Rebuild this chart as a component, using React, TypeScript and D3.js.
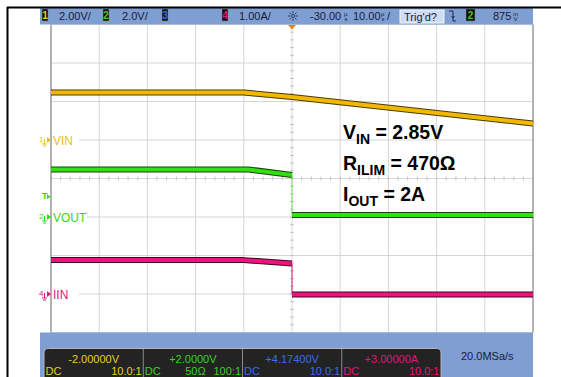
import React from "react";
import * as d3 from "d3";

// Time axis in microseconds, trigger at 0
const timeDomain = [-50, 50];

// CH1 VIN (V), 2 V/div
const vinTime = [-50, -10, 0, 50];
const vinValues = [2.47, 2.47, 2.23, 0.86];

// CH2 VOUT (V), 2 V/div — before and after the trip
const voutTimeBefore = [-50, -9, 0];
const voutBefore = [2.47, 2.47, 2.18];
const voutTimeAfter = [0, 50];
const voutAfter = [0.1, 0.1];

// CH4 IIN (A), 1 A/div
const iinTimeBefore = [-50, -10, 0];
const iinBefore = [0.88, 0.88, 0.79];
const iinTimeAfter = [0, 50];
const iinAfter = [-0.01, -0.01];

const headerItems = ["2.00V/", "2.0V/", "1.00A/"];
const bottomOffsets = ["-2.00000V", "+2.0000V", "+4.17400V", "+3.00000A"];
const bottomLeft = ["DC", "DC", "DC", "DC"];
const bottomMid = ["", "50Ω", "", ""];
const bottomRight = ["10.0:1", "100:1", "10.0:1", "10.0:1"];
const channelColors = ["#e8d020", "#3cd020", "#3a6cf0", "#e0157a"];

const W = 561;
const H = 377;
const gx0 = 51;
const gx1 = 533;
const gy0 = 24.5;
const gy1 = 332.5;
const divH = (gy1 - gy0) / 8;

const x = d3.scaleLinear().domain(timeDomain).range([gx0, gx1]);
const yDiv = d3.scaleLinear().domain([-4, 4]).range([gy1, gy0]);

function chanY(groundDiv: number, perDiv: number) {
  return (v: number) => yDiv(groundDiv + v / perDiv);
}
const y1 = chanY(1, 2);
const y2 = chanY(-1, 2);
const y4 = chanY(-3, 1);

function pathOf(ts: number[], vs: number[], yf: (v: number) => number) {
  const line = d3.line<number>().x((_, i) => x(ts[i])).y((v) => yf(v));
  return line(vs) || "";
}

function Trace({ d, color, edge, w }: { d: string; color: string; edge: string; w: number }) {
  return (
    <g fill="none" strokeLinejoin="round">
      <path d={d} stroke={edge} strokeWidth={w + 2} />
      <path d={d} stroke={color} strokeWidth={w} />
    </g>
  );
}

function GroundMarker({ y, num, color, label }: { y: number; num: string; color: string; label: string }) {
  return (
    <g>
      <rect x={52} y={y - 7} width={label.length * 8 + 3} height={14} fill="#fff" />
      <text x={39} y={y + 2} fontSize={8} fill={color} fontFamily="Liberation Sans, Arial, sans-serif">{num}</text>
      <line x1={44.5} y1={y - 1} x2={44.5} y2={y + 4} stroke={color} strokeWidth={1} />
      <line x1={42} y1={y + 4} x2={47} y2={y + 4} stroke={color} strokeWidth={1} />
      <line x1={43} y1={y + 6} x2={46} y2={y + 6} stroke={color} strokeWidth={1} />
      <path d={`M47,${y - 3} L51,${y} L47,${y + 3} Z`} fill={color} />
      <text x={53} y={y + 4.5} fontSize={12} fill={color} fontFamily="Liberation Sans, Arial, sans-serif">{label}</text>
    </g>
  );
}

function UnitStack({ xx, yy, top, bottom }: { xx: number; yy: number; top: string; bottom: string }) {
  return (
    <g fontSize={6} fill="#1a1a3a" fontFamily="Liberation Sans, Arial, sans-serif">
      <text x={xx} y={yy - 4}>{top}</text>
      <text x={xx + 0.5} y={yy + 0.5}>{bottom}</text>
    </g>
  );
}

function ChanBox({ xx, num, color }: { xx: number; num: string; color: string }) {
  return (
    <g>
      <rect x={xx} y={9} width={6} height={12} fill="#111" stroke="#888" strokeWidth={0.5} />
      <text x={xx + 3} y={19} fontSize={10} fontWeight="bold" textAnchor="middle" fill={color} fontFamily="Liberation Sans, Arial, sans-serif">{num}</text>
    </g>
  );
}

export default function App() {
  const vLines = d3.range(0, 11).map((i) => gx0 + (i * (gx1 - gx0)) / 10);
  const hLines = d3.range(0, 9).map((i) => gy0 + i * divH);
  const cx = (gx0 + gx1) / 2;
  const cy = (gy0 + gy1) / 2;
  const hTicks = d3.range(0, 51).map((i) => gx0 + (i * (gx1 - gx0)) / 50);
  const vTicks = d3.range(0, 41).map((i) => gy0 + (i * (gy1 - gy0)) / 40);
  const font = "Liberation Sans, Arial, sans-serif";
  const cellW = 99.25;
  const trigY = y2(0.875);

  return (
    <svg width={W} height={H} style={{ position: "absolute", left: 0, top: 0 }}>
      <rect x={0} y={0} width={W} height={H} fill="#fff" />

      {/* grid */}
      <g stroke="#d6d6d6" strokeWidth={1}>
        {vLines.map((vx, i) => (
          <line key={"v" + i} x1={vx} y1={gy0} x2={vx} y2={gy1} />
        ))}
        {hLines.map((hy, i) => (
          <line key={"h" + i} x1={gx0} y1={hy} x2={gx1} y2={hy} />
        ))}
      </g>
      <g stroke="#c4c4c4" strokeWidth={1}>
        {hTicks.map((tx, i) => (
          <line key={"ht" + i} x1={tx} y1={cy - 2} x2={tx} y2={cy + 2} />
        ))}
        {vTicks.map((ty, i) => (
          <line key={"vt" + i} x1={cx - 2} y1={ty} x2={cx + 2} y2={ty} />
        ))}
      </g>
      <line x1={gx0} y1={gy0} x2={gx0} y2={gy1} stroke="#8a8a8a" strokeWidth={1.2} />
      <line x1={gx1} y1={gy0} x2={gx1} y2={gy1} stroke="#a0a0a0" strokeWidth={1.5} />

      {/* channel labels */}
      <GroundMarker y={y1(0)} num="1" color="#e8c020" label="VIN" />
      <GroundMarker y={y2(0)} num="2" color="#3cd020" label="VOUT" />
      <GroundMarker y={y4(0)} num="4" color="#e0157a" label="IIN" />
      <g>
        <text x={42} y={trigY - 1} fontSize={9} fontWeight="bold" fill="#3cd020" fontFamily={font}>T</text>
        <path d={`M47,${trigY - 6} L50.5,${trigY - 3.5} L47,${trigY - 1} Z`} fill="#3cd020" />
      </g>

      {/* vertical transitions */}
      <line x1={x(0)} y1={y2(voutBefore[2])} x2={x(0)} y2={y2(voutAfter[0])} stroke="#7ee060" strokeWidth={1} />
      <line x1={x(0)} y1={y4(iinBefore[2])} x2={x(0)} y2={y4(iinAfter[0])} stroke="#e0157a" strokeWidth={1} />

      {/* traces */}
      <Trace d={pathOf(vinTime, vinValues, y1)} color="#f2b800" edge="#4a3c00" w={4} />
      <Trace d={pathOf(voutTimeBefore, voutBefore, y2)} color="#30e010" edge="#1c4010" w={4} />
      <Trace d={pathOf(voutTimeAfter, voutAfter, y2)} color="#30e010" edge="#1c4010" w={4} />
      <Trace d={pathOf(iinTimeBefore, iinBefore, y4)} color="#f0127e" edge="#3a0a20" w={4} />
      <Trace d={pathOf(iinTimeAfter, iinAfter, y4)} color="#f0127e" edge="#3a0a20" w={4} />

      {/* annotation */}
      <g fontFamily={font} fontWeight="bold" fill="#000">
        <text x={343} y={139} fontSize={19.5}>
          V<tspan fontSize={14} dy={5}>IN</tspan>
          <tspan dy={-5}> = 2.85V</tspan>
        </text>
        <text x={343} y={170} fontSize={19.5}>
          R<tspan fontSize={14} dy={5}>ILIM</tspan>
          <tspan dy={-5}> = 470Ω</tspan>
        </text>
        <text x={343} y={201} fontSize={19.5}>
          I<tspan fontSize={14} dy={5}>OUT</tspan>
          <tspan dy={-5}> = 2A</tspan>
        </text>
      </g>

      {/* header bar */}
      <rect x={40} y={8} width={gx1 - 40} height={16.5} fill="#7f9fd2" />
      <g fontFamily={font} fontSize={11} fill="#1a1a3a">
        <ChanBox xx={42} num="1" color="#e8d020" />
        <text x={59} y={20}>{headerItems[0]}</text>
        <ChanBox xx={103} num="2" color="#3cd020" />
        <text x={122} y={20}>{headerItems[1]}</text>
        <ChanBox xx={162} num="3" color="#3a6cf0" />
        <ChanBox xx={222} num="4" color="#e0157a" />
        <text x={239} y={20}>{headerItems[2]}</text>
        {/* brightness icon */}
        <g stroke="#2a2a4a" strokeWidth={0.8}>
          {d3.range(0, 8).map((i) => {
            const a = (i * Math.PI) / 4;
            return (
              <line key={i} x1={293 + Math.cos(a) * 2.5} y1={16 + Math.sin(a) * 2.5} x2={293 + Math.cos(a) * 5} y2={16 + Math.sin(a) * 5} />
            );
          })}
          <circle cx={293} cy={16} r={1.5} fill="none" />
        </g>
        <text x={310} y={20}>-30.00</text>
        <UnitStack xx={344} yy={20} top="µ" bottom="s" />
        <text x={353} y={20}>10.00</text>
        <UnitStack xx={381} yy={20} top="µ" bottom="s" />
        <text x={387} y={20}>/</text>
        <rect x={400} y={10} width={44} height={13} fill="#cfdcf2" stroke="#f4f6fa" strokeWidth={1} />
        <text x={404} y={20.5}>Trig'd?</text>
        <path d="M449,11 L453,11 L453,21 L456,21 M451.5,16 L453,18 L454.5,16" stroke="#1a1a3a" strokeWidth={0.9} fill="none" />
        <rect x={466} y={9} width={9} height={12} fill="#111" stroke="#888" strokeWidth={0.5} />
        <text x={470.5} y={19} fontSize={10} fontWeight="bold" textAnchor="middle" fill="#3cd020">2</text>
        <text x={493} y={20}>875</text>
        <UnitStack xx={513} yy={20} top="m" bottom="V" />
      </g>
      <path d={`M${x(0) - 4},${gy0 + 0.5} L${x(0) + 4},${gy0 + 0.5} L${x(0)},${gy0 + 5} Z`} fill="#f08010" />

      {/* bottom bar */}
      <rect x={40} y={gy1} width={gx1 - 40} height={H - gy1} fill="#7f9fd2" />
      <path
        d={`M44,${H + 2} L44,353 Q44,348.5 48.5,348.5 L436.5,348.5 Q441,348.5 441,353 L441,${H + 2}`}
        fill="#232323"
        stroke="#b8b8b8"
        strokeWidth={1}
      />
      <g stroke="#8a8a8a" strokeWidth={1}>
        {[1, 2, 3].map((i) => (
          <line key={i} x1={44 + i * cellW} y1={349} x2={44 + i * cellW} y2={H} />
        ))}
      </g>
      <g fontFamily={font} fontSize={11}>
        {bottomOffsets.map((s, i) => {
          const x0 = 44 + i * cellW;
          const c = channelColors[i];
          return (
            <g key={i} fill={c}>
              <text x={x0 + cellW / 2} y={363} textAnchor="middle">{s}</text>
              <text x={x0 + 1.5} y={375}>{bottomLeft[i]}</text>
              {bottomMid[i] && (
                <text x={x0 + 42} y={375}>{bottomMid[i]}</text>
              )}
              <text x={x0 + cellW - 1.5} y={375} textAnchor="end">{bottomRight[i]}</text>
            </g>
          );
        })}
        <text x={461} y={360} fill="#1a1a3a">20.0MSa/s</text>
      </g>

      {/* frame */}
      <line x1={7} y1={7.5} x2={W} y2={7.5} stroke="#000" strokeWidth={2} />
      <line x1={7.5} y1={7} x2={7.5} y2={H} stroke="#000" strokeWidth={2} />
    </svg>
  );
}
